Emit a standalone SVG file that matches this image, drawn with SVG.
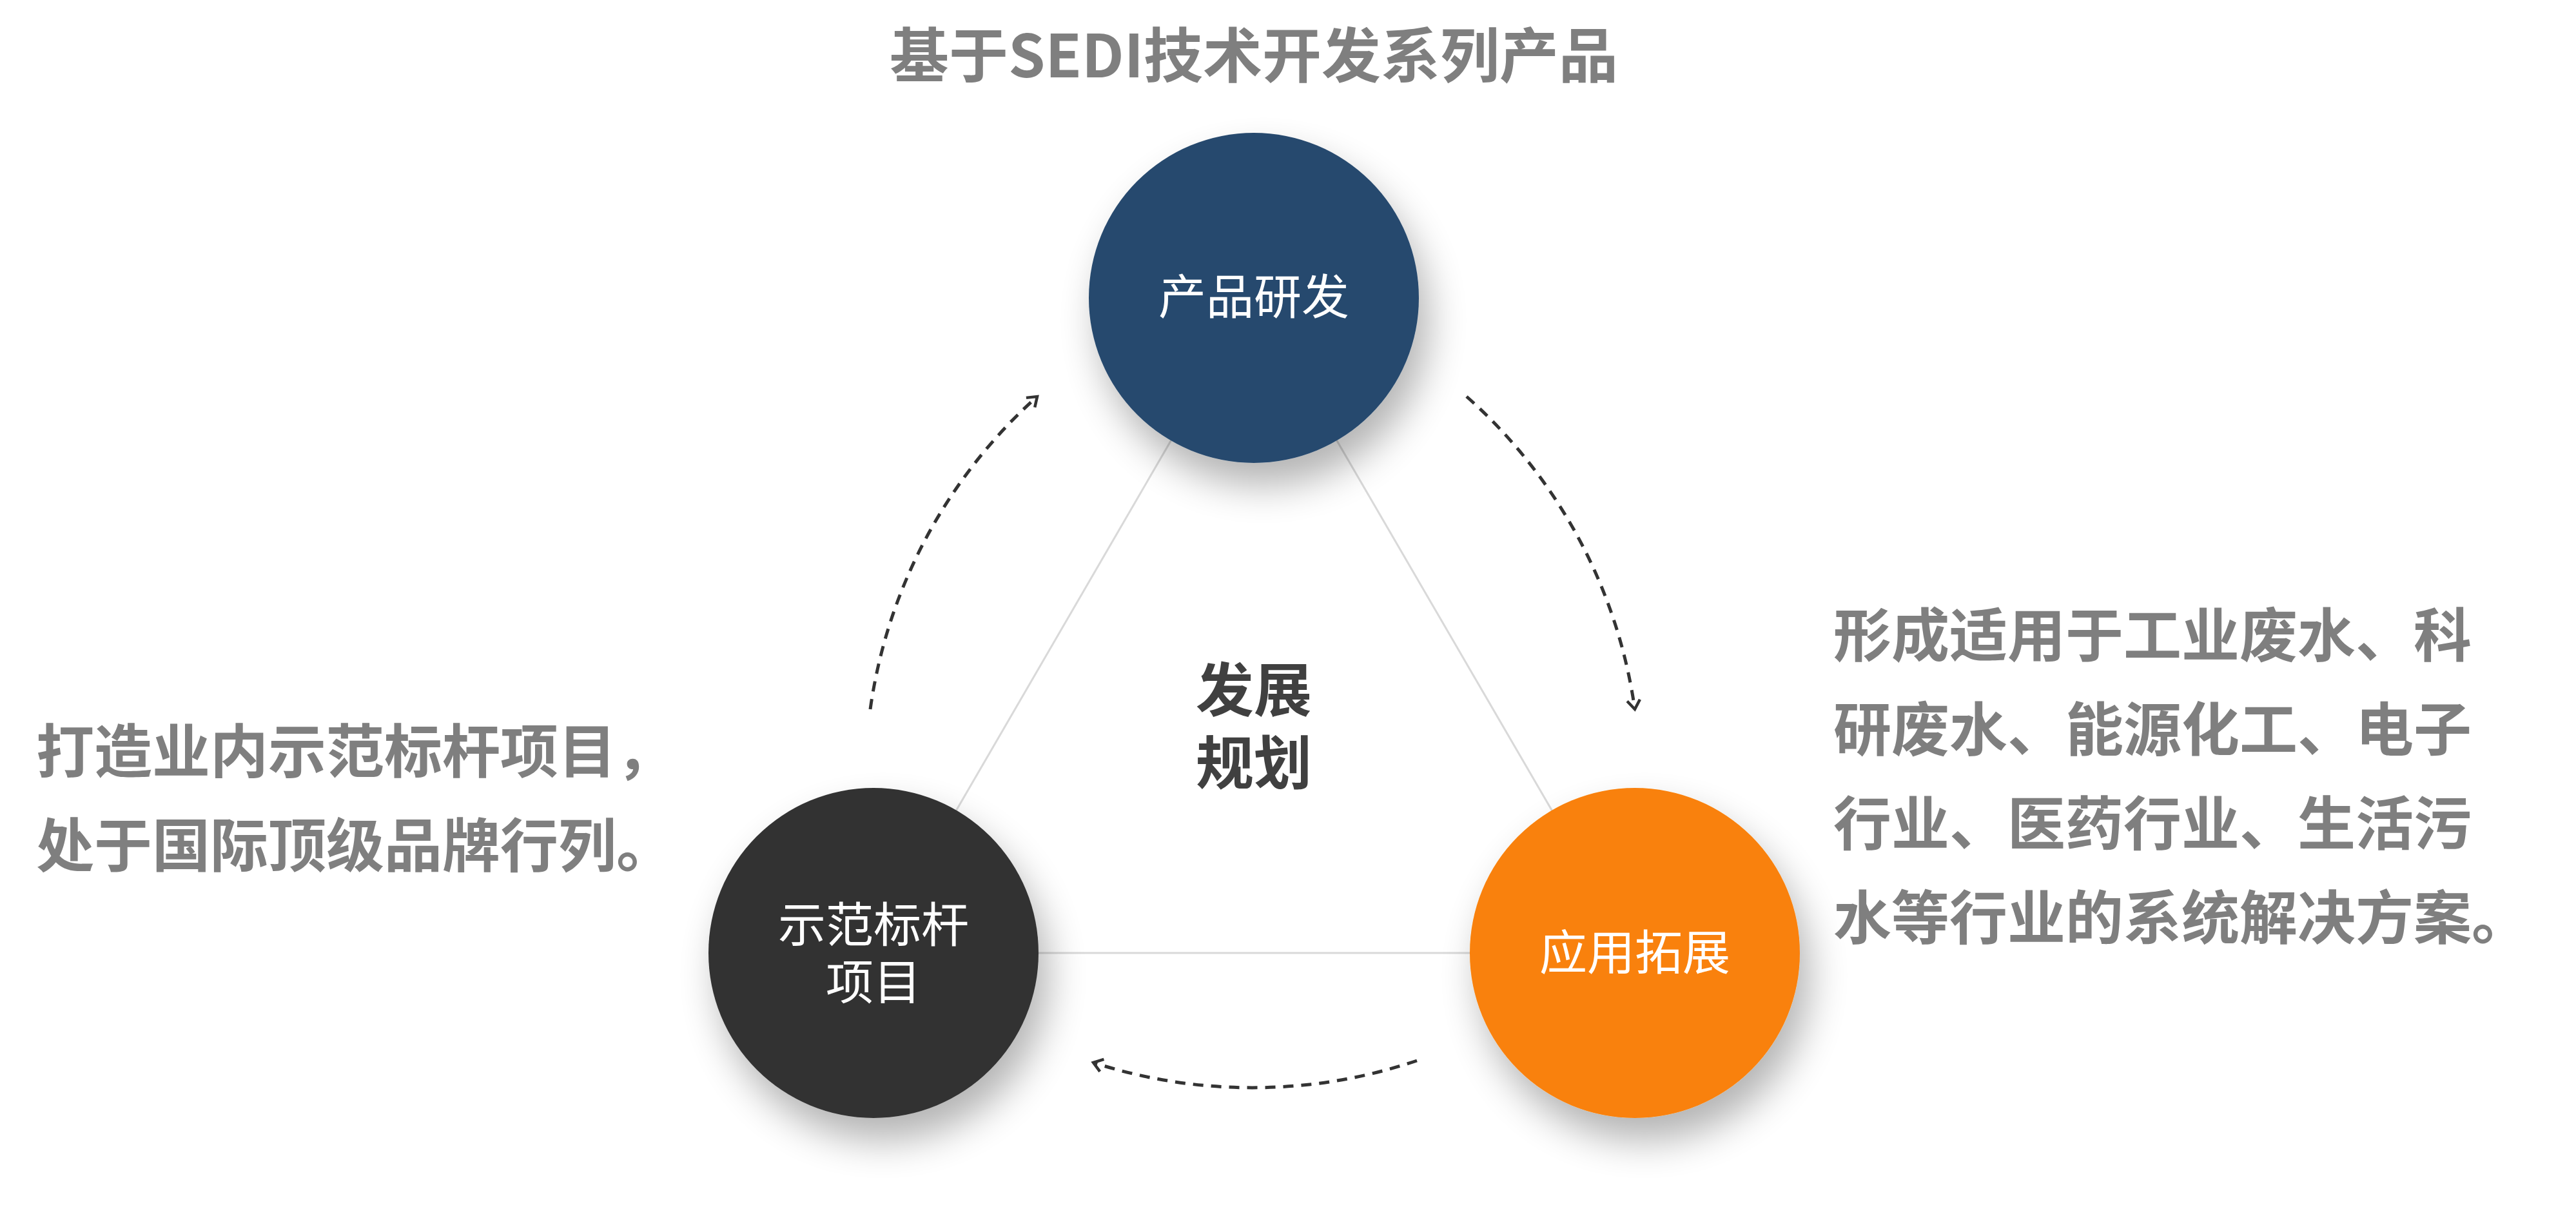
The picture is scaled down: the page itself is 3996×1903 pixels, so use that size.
<svg xmlns="http://www.w3.org/2000/svg" width="3996" height="1903" viewBox="0 0 3996 1903">
<defs>
<style>
.t{font-family:"Noto Sans CJK SC","Liberation Sans",sans-serif;font-weight:bold;fill:#7f7f7f;font-size:90px}
.c{font-family:"Noto Sans CJK SC","Liberation Sans",sans-serif;fill:#ffffff;font-size:74px;text-anchor:middle}
.d{fill:none;stroke:#333;stroke-width:5;stroke-dasharray:16 12}
</style>
<filter id="sh" x="-50%" y="-50%" width="200%" height="200%"><feGaussianBlur in="SourceAlpha" stdDeviation="30"/><feOffset dx="15" dy="35"/><feComponentTransfer><feFuncA type="linear" slope="0.3"/></feComponentTransfer><feMerge><feMergeNode/><feMergeNode in="SourceGraphic"/></feMerge></filter>
<marker id="ah" viewBox="-20 -20 40 40" refX="0" refY="0" markerWidth="40" markerHeight="40" orient="auto" markerUnits="userSpaceOnUse"><path d="M-14,-10 L0,0 L-14,10" fill="none" stroke="#333" stroke-width="4.5"/></marker>
</defs>
<rect width="3996" height="1903" fill="#fff"/>
<g id="connectors">
<g stroke="#d9d9d9" stroke-width="3"><line x1="1945" y1="462" x2="1355" y2="1478"/><line x1="1945" y1="462" x2="2536" y2="1478"/><line x1="1355" y1="1478" x2="2536" y2="1478"/></g>
<path class="d" d="M2275,615 A800,800 0 0 1 2536,1100" marker-end="url(#ah)"/>
<path class="d" d="M2198,1645 A800,800 0 0 1 1696,1648" marker-end="url(#ah)"/>
<path class="d" d="M1350,1100 A800,800 0 0 1 1609,615" marker-end="url(#ah)"/>
</g>
<g id="n1"><circle cx="1945" cy="462" r="256" fill="#284a6e" filter="url(#sh)"/><text class="c" x="1945" y="487">产品研发</text></g>
<g id="n2"><circle cx="1355" cy="1478" r="256" fill="#333333" filter="url(#sh)"/><text class="c" x="1355" y="1461">示范标杆</text><text class="c" x="1355" y="1550">项目</text></g>
<g id="n3"><circle cx="2536" cy="1478" r="256" fill="#f98109" filter="url(#sh)"/><text class="c" x="2536" y="1504">应用拓展</text></g>
<g id="center"><text class="t" x="1945" y="1103" text-anchor="middle" style="fill:#404040">发展</text><text class="t" x="1945" y="1216" text-anchor="middle" style="fill:#404040">规划</text></g>
<g id="title"><text class="t" x="1945" y="120" text-anchor="middle" style="font-size:92px">基于SEDI技术开发系列产品</text></g>
<g id="left"><text class="t" x="56" y="1198">打造业内示范标杆项目，</text><text class="t" x="56" y="1344">处于国际顶级品牌行列。</text></g>
<g id="right"><text class="t" x="2844" y="1018">形成适用于工业废水、科</text><text class="t" x="2844" y="1164">研废水、能源化工、电子</text><text class="t" x="2844" y="1310">行业、医药行业、生活污</text><text class="t" x="2844" y="1456">水等行业的系统解决方案。</text></g>
</svg>
